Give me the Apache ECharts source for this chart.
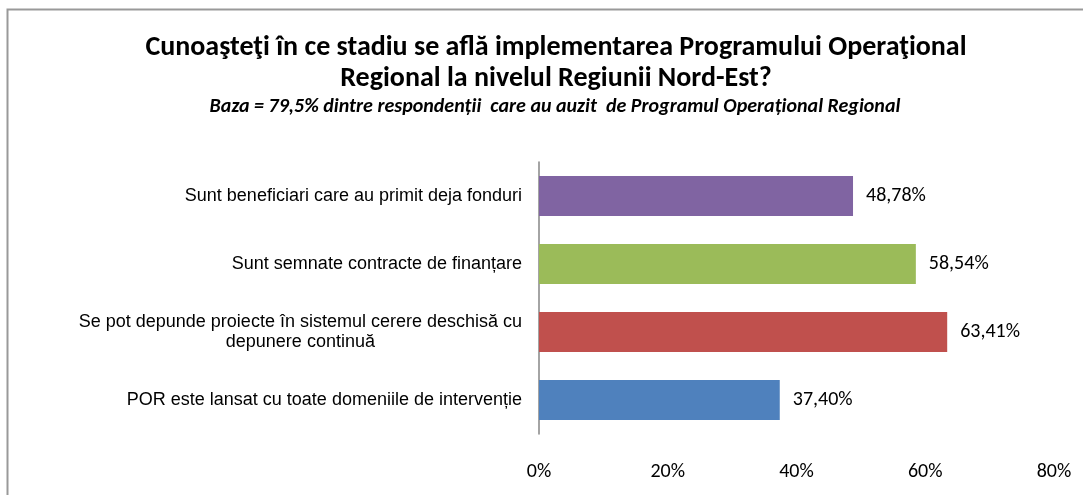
<!DOCTYPE html>
<html>
<head>
<meta charset="utf-8">
<script src="https://cdn.jsdelivr.net/npm/echarts@6/dist/echarts.min.js"></script>
<style>html,body{margin:0;padding:0;background:#fff}#c{width:1083px;height:495px}</style>
</head>
<body>
<div id="c"></div>
<script>
// Categories listed bottom-to-top (ECharts category axis order)
const categories = [
  'POR este lansat cu toate domeniile de intervenție',
  'Se pot depunde proiecte în sistemul cerere deschisă cu\ndepunere continuă',
  'Sunt semnate contracte de finanțare',
  'Sunt beneficiari care au primit deja fonduri'
];
const values = [37.40, 63.41, 58.54, 48.78];
const barColors = ['#4F81BD', '#C0504D', '#9BBB59', '#8064A2'];
const xTicks = [0, 20, 40, 60, 80];
const titleText = 'Cunoaşteţi în ce stadiu se află implementarea Programului Operaţional\nRegional la nivelul Regiunii Nord-Est?';
const subtitleText = 'Baza = 79,5% dintre respondenții  care au auzit  de Programul Operațional Regional';

const chart = echarts.init(document.getElementById('c'));
chart.setOption({
  animation: false,
  backgroundColor: '#fff',
  graphic: [{
    type: 'rect', silent: true,
    shape: { x: 7.5, y: 9.5, width: 1200, height: 600 },
    style: { fill: 'none', stroke: '#999999', lineWidth: 2 }
  }],
  title: [{
    text: titleText,
    left: 551, top: 27, textAlign: 'center',
    textStyle: { fontFamily: 'Carlito, Lato, sans-serif', fontWeight: 'bold', fontSize: 28, lineHeight: 31, color: '#000' }
  }, {
    text: subtitleText,
    left: 550, top: 92, textAlign: 'center',
    textStyle: { fontFamily: 'Carlito, Lato, sans-serif', fontWeight: 'bold', fontStyle: 'italic', fontSize: 20, lineHeight: 20, color: '#000' }
  }],
  grid: { left: 539, right: 29, top: 162, bottom: 61, containLabel: false },
  xAxis: {
    type: 'value', min: 0, max: 80, interval: 20,
    axisLine: { show: false }, axisTick: { show: false }, splitLine: { show: false },
    axisLabel: {
      margin: 28, color: '#000', fontFamily: 'Carlito, Lato, sans-serif', fontSize: 20,
      formatter: v => xTicks.includes(v) ? v + '%' : ''
    }
  },
  yAxis: {
    type: 'category', data: categories,
    axisLine: { show: true, lineStyle: { color: '#868686', width: 1.5 } },
    axisTick: { show: false },
    axisLabel: {
      margin: 17, color: '#000', fontFamily: '"Liberation Sans", Arial, sans-serif', fontSize: 18,
      lineHeight: 20,
      formatter: v => v.split('\n').map(l => '{c|' + l + '}').join('\n'),
      rich: { c: { align: 'center', fontFamily: '"Liberation Sans", Arial, sans-serif', fontSize: 18, lineHeight: 20, color: '#000' } }
    }
  },
  series: [{
    type: 'bar',
    data: values.map((v, i) => ({ value: v, itemStyle: { color: barColors[i] } })),
    barCategoryGap: '41%',
    label: {
      show: true, position: 'right', distance: 13, color: '#000',
      fontFamily: 'Carlito, Lato, sans-serif', fontSize: 20,
      formatter: p => p.value.toFixed(2).replace('.', ',') + '%'
    }
  }]
});
</script>
</body>
</html>
